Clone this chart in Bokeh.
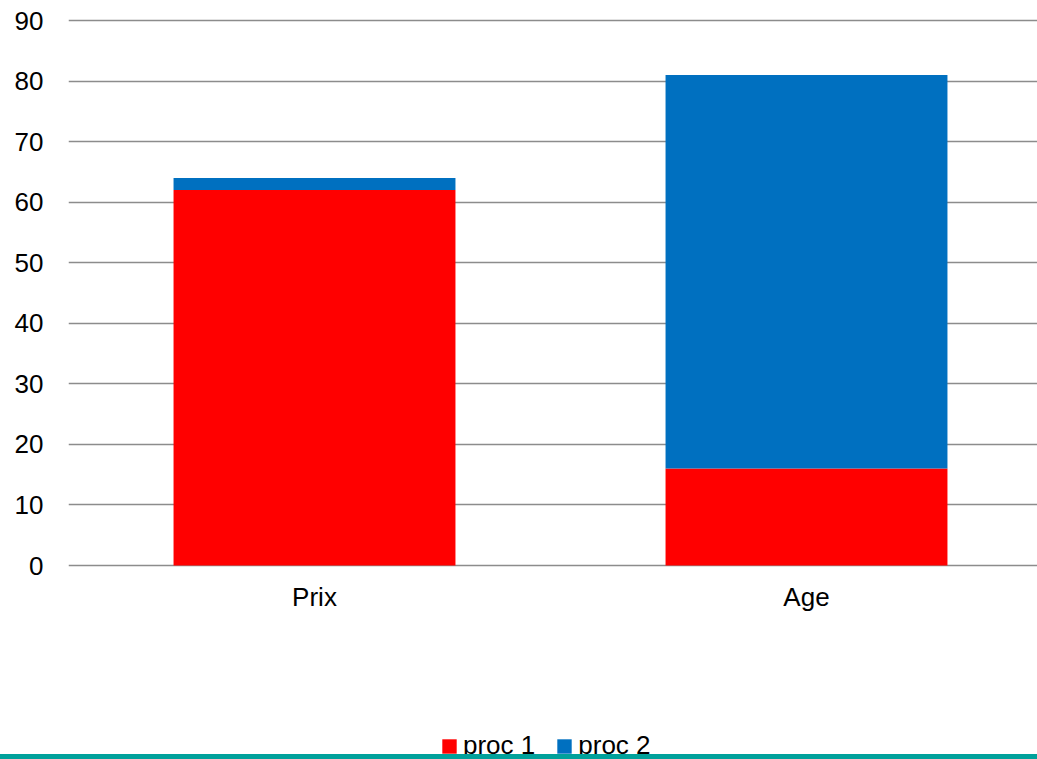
from bokeh.plotting import figure
from bokeh.models import Range1d, FixedTicker, Legend, LegendItem, ColumnDataSource, Div
from bokeh.layouts import column
from bokeh.embed import file_html
from bokeh.resources import INLINE

categories = ["Prix", "Age"]
proc1 = [62, 16]
proc2 = [2, 65]
series_names = ["proc 1", "proc 2"]
colors = ["#FF0000", "#0070C0"]
y_ticks = [0, 10, 20, 30, 40, 50, 60, 70, 80, 90]

xs = [i + 0.5 for i in range(len(categories))]
source = ColumnDataSource(dict(x=xs, p1=proc1, p2=proc2))

FONT = "Liberation Sans"
FS = "26px"

# frame spans from 17 px below the top to the bottom of the page;
# 545 px per 90 units, value 0 sits 565 px from the top
px_per_unit = 545 / 90
y_top = 90 + 3 / px_per_unit
y_bottom = -(759 - 565) / px_per_unit

p = figure(width=1037, height=759, output_backend="svg", toolbar_location=None,
           x_range=Range1d(0, 969 / 492), y_range=Range1d(y_bottom, y_top),
           min_border_left=68, min_border_right=0, min_border_top=17,
           min_border_bottom=0)
p.outline_line_color = None
p.background_fill_alpha = 0
p.border_fill_alpha = 0

renderers = p.vbar_stack(["p1", "p2"], x="x", width=0.573, color=colors,
                         line_color=None, source=source)

p.xgrid.grid_line_color = None
p.ygrid.ticker = FixedTicker(ticks=y_ticks)
p.ygrid.grid_line_color = "#8c8c8c"
p.ygrid.grid_line_width = 1.5

p.yaxis.ticker = FixedTicker(ticks=y_ticks)
p.yaxis.axis_line_color = None
p.yaxis.major_tick_line_color = None
p.yaxis.minor_tick_line_color = None
p.yaxis.major_tick_out = 0
p.yaxis.major_tick_in = 0
p.yaxis.major_label_text_font = FONT
p.yaxis.major_label_text_font_size = FS
p.yaxis.major_label_text_color = "#000000"
p.yaxis.major_label_standoff = 25

p.xaxis.ticker = FixedTicker(ticks=xs)
p.xaxis.major_label_overrides = {x: c for x, c in zip(xs, categories)}
p.xaxis.fixed_location = 0
p.xaxis.axis_line_color = None
p.xaxis.major_tick_line_color = None
p.xaxis.minor_tick_line_color = None
p.xaxis.major_tick_out = 0
p.xaxis.major_tick_in = 0
p.xaxis.major_label_text_font = FONT
p.xaxis.major_label_text_font_size = FS
p.xaxis.major_label_text_color = "#000000"
p.xaxis.major_label_standoff = 16

legend = Legend(items=[LegendItem(label=n, renderers=[r]) for n, r in zip(series_names, renderers)],
                orientation="horizontal", location=(372, -2), margin=0, padding=0,
                border_line_color=None, background_fill_alpha=0,
                glyph_width=18, glyph_height=18, label_standoff=5, spacing=20,
                label_text_font=FONT, label_text_font_size=FS,
                label_text_color="#000000")
p.add_layout(legend, "center")

band = Div(text="", width=1037, height=5, margin=(-5, 0, 0, 0),
           styles={"background-color": "#00A19B"})

layout = column(p, band, spacing=0)
open("out.html", "w").write(file_html(layout, INLINE))
